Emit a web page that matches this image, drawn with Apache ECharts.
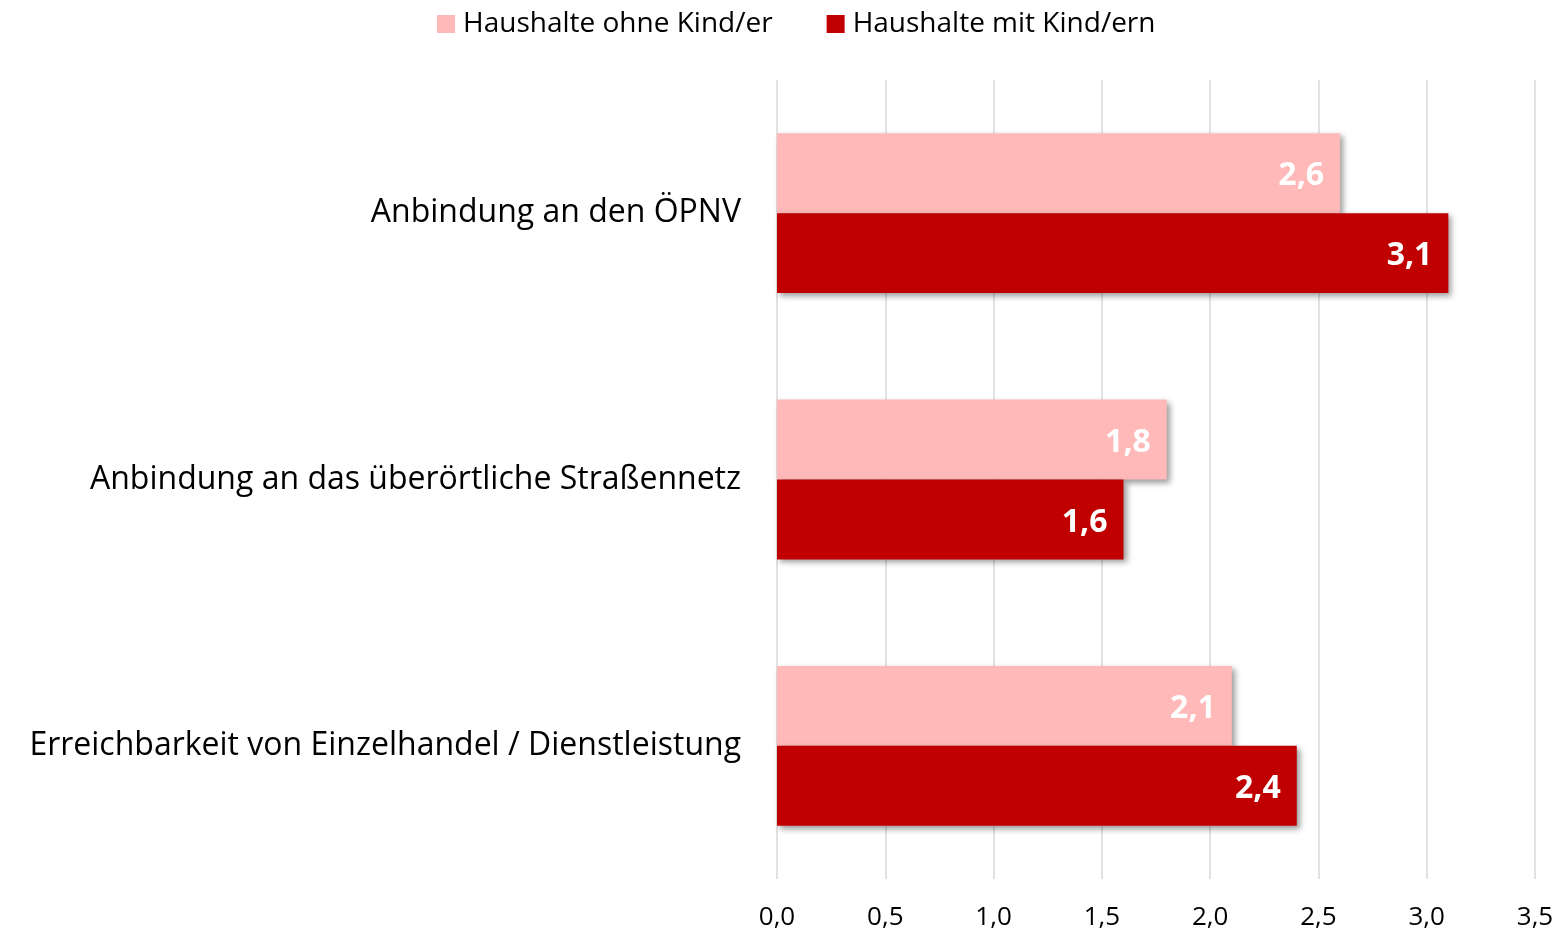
<!DOCTYPE html>
<html>
<head>
<meta charset="utf-8">
<script src="https://cdn.jsdelivr.net/npm/echarts@6/dist/echarts.min.js"></script>
<style>
  html, body { margin: 0; padding: 0; background: #fff; }
  #chart { width: 1557px; height: 931px; }
</style>
</head>
<body>
<div id="chart"></div>
<script>
const categories = [
  "Anbindung an den ÖPNV",
  "Anbindung an das überörtliche Straßennetz",
  "Erreichbarkeit von Einzelhandel / Dienstleistung"
];
const seriesNames = ["Haushalte ohne Kind/er", "Haushalte mit Kind/ern"];
const ohneKind = [2.6, 1.8, 2.1];
const mitKind = [3.1, 1.6, 2.4];

const fmt = v => v.toFixed(1).replace(".", ",");
const font = "'Open Sans', sans-serif";

const chart = echarts.init(document.getElementById("chart"));

function barSeries(name, data, color) {
  return {
    name: name,
    type: "bar",
    data: data,
    barGap: "0%",
    barCategoryGap: "40%",
    itemStyle: {
      color: color,
      shadowColor: "rgba(0,0,0,0.4)",
      shadowBlur: 6,
      shadowOffsetX: 3,
      shadowOffsetY: 3
    },
    label: {
      show: true,
      position: "insideRight",
      distance: 16,
      offset: [0, 3],
      color: "#fff",
      fontFamily: font,
      fontWeight: "bold",
      fontSize: 32,
      formatter: p => fmt(p.value)
    }
  };
}

chart.setOption({
  animation: false,
  legend: {
    top: 10,
    left: 437,
    padding: 0,
    itemWidth: 18,
    itemHeight: 18,
    itemGap: 54,
    icon: "rect",
    textStyle: { fontFamily: font, fontSize: 28, color: "#000", padding: [0, 0, 0, 3] },
    data: seriesNames
  },
  grid: { left: 777, right: 22, top: 80, bottom: 51, containLabel: false },
  xAxis: {
    type: "value",
    min: 0,
    max: 3.5,
    interval: 0.5,
    axisLine: { show: false },
    axisTick: { show: false },
    splitLine: { lineStyle: { color: "#d9d9d9", width: 1.5 } },
    axisLabel: {
      margin: 26,
      fontFamily: font,
      fontSize: 26,
      color: "#000",
      formatter: v => fmt(v)
    }
  },
  yAxis: {
    type: "category",
    data: categories,
    inverse: true,
    axisLine: { show: false },
    axisTick: { show: false },
    axisLabel: {
      margin: 36,
      fontFamily: font,
      fontSize: 32,
      color: "#000"
    }
  },
  series: [
    barSeries(seriesNames[0], ohneKind, "#FFB9B9"),
    barSeries(seriesNames[1], mitKind, "#C00000")
  ]
});
</script>
</body>
</html>
